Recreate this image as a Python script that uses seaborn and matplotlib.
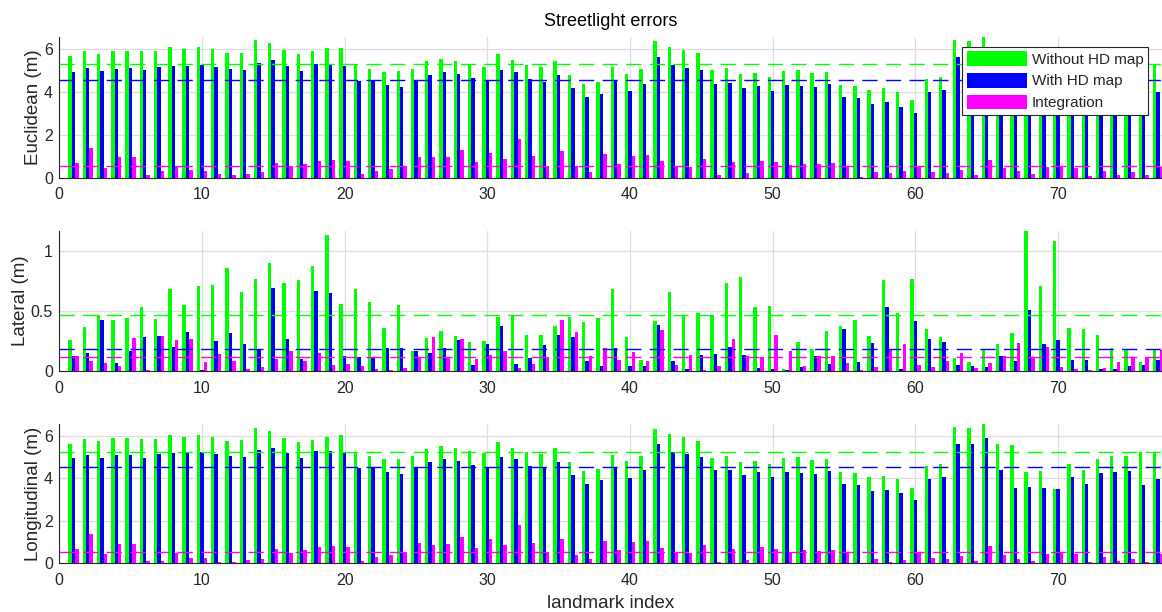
import numpy as np
import pandas as pd
import matplotlib
matplotlib.use("Agg")
import matplotlib.pyplot as plt
from matplotlib.patches import Patch
import seaborn as sns

# ---------------- data ----------------
landmarks = list(range(1, 78))
series_names = ["Without HD map", "With HD map", "Integration"]
colors = ["#00FF00", "#0000FF", "#FF00FF"]

eu_without = [5.67, 5.92, 5.78, 5.93, 5.93, 5.92, 5.92, 6.09, 6.01, 6.11,
              6.01, 5.83, 5.84, 6.45, 6.29, 5.97, 5.78, 5.92, 6.07, 6.06,
              5.26, 5.09, 4.94, 4.98, 5.08, 5.43, 5.55, 5.45, 5.30, 5.19,
              5.78, 5.50, 5.28, 5.17, 5.45, 4.80, 4.38, 4.49, 5.17, 4.84,
              5.06, 6.37, 6.12, 5.97, 5.81, 5.03, 5.12, 4.86, 4.89, 4.70,
              4.98, 5.03, 4.88, 4.92, 4.31, 4.28, 4.11, 4.19, 4.02, 3.63,
              4.61, 4.69, 6.43, 6.39, 6.57, 5.63, 5.59, 4.43, 4.39, 3.67,
              4.69, 4.38, 4.93, 5.06, 5.06, 5.21, 5.28]
eu_with = [4.95, 5.11, 5.00, 5.09, 5.12, 5.02, 5.17, 5.22, 5.23, 5.26,
           5.17, 5.06, 5.03, 5.34, 5.48, 5.22, 4.98, 5.31, 5.30, 5.22,
           4.50, 4.53, 4.33, 4.24, 4.55, 4.80, 4.94, 4.84, 4.66, 4.58,
           5.05, 4.92, 4.61, 4.49, 4.78, 4.19, 3.77, 3.91, 4.55, 4.05,
           4.38, 5.62, 5.26, 5.14, 5.03, 4.38, 4.44, 4.17, 4.28, 4.07,
           4.33, 4.28, 4.25, 4.36, 3.77, 3.71, 3.44, 3.52, 3.30, 3.04,
           4.00, 4.10, 5.64, 5.63, 5.90, 4.42, 3.54, 3.65, 3.56, 3.50,
           4.05, 3.73, 4.25, 4.30, 4.33, 3.70, 4.00]
eu_int = [0.70, 1.37, 0.44, 0.95, 0.98, 0.12, 0.33, 0.55, 0.37, 0.30,
          0.17, 0.12, 0.17, 0.25, 0.70, 0.55, 0.64, 0.78, 0.83, 0.78,
          0.16, 0.31, 0.40, 0.55, 0.97, 0.95, 0.95, 1.28, 0.73, 1.15,
          0.87, 1.81, 1.00, 0.55, 1.23, 0.55, 0.26, 1.09, 0.62, 1.01,
          1.06, 0.78, 0.50, 0.50, 0.86, 0.11, 0.75, 0.23, 0.79, 0.75,
          0.58, 0.64, 0.64, 0.67, 0.50, 0.05, 0.25, 0.22, 0.31, 0.50,
          0.26, 0.22, 0.37, 0.14, 0.81, 0.44, 0.31, 0.19, 0.51, 0.50,
          0.47, 0.09, 0.33, 0.14, 0.26, 0.14, 0.50]

lat_without = [0.256, 0.369, 0.467, 0.422, 0.444, 0.533, 0.433, 0.681, 0.553, 0.706,
               0.717, 0.856, 0.656, 0.767, 0.900, 0.731, 0.756, 0.875, 1.136, 0.556,
               0.683, 0.575, 0.356, 0.550, 0.169, 0.272, 0.336, 0.292, 0.242, 0.247,
               0.450, 0.461, 0.297, 0.300, 0.378, 0.453, 0.408, 0.442, 0.681, 0.281,
               0.089, 0.417, 0.656, 0.469, 0.483, 0.469, 0.731, 0.781, 0.531, 0.542,
               0.017, 0.239, 0.180, 0.336, 0.378, 0.425, 0.294, 0.761, 0.486, 0.767,
               0.347, 0.286, 0.106, 0.078, 0.186, 0.225, 0.317, 1.169, 0.708, 1.086,
               0.361, 0.350, 0.300, 0.189, 0.186, 0.078, 0.183]
lat_with = [0.128, 0.150, 0.422, 0.069, 0.167, 0.283, 0.292, 0.200, 0.325, 0.008,
            0.247, 0.317, 0.225, 0.180, 0.692, 0.264, 0.097, 0.669, 0.653, 0.125,
            0.114, 0.111, 0.192, 0.189, 0.167, 0.150, 0.194, 0.258, 0.053, 0.222,
            0.375, 0.058, 0.106, 0.217, 0.303, 0.281, 0.086, 0.042, 0.194, 0.039,
            0.042, 0.383, 0.081, 0.017, 0.136, 0.144, 0.203, 0.133, 0.025, 0.017,
            0.008, 0.036, 0.122, 0.058, 0.350, 0.078, 0.233, 0.533, 0.017, 0.417,
            0.267, 0.242, 0.053, 0.042, 0.036, 0.125, 0.083, 0.508, 0.228, 0.256,
            0.094, 0.094, 0.017, 0.017, 0.042, 0.053, 0.094]
lat_int = [0.125, 0.086, 0.067, 0.042, 0.272, 0.011, 0.289, 0.258, 0.264, 0.078,
           0.139, 0.083, 0.019, 0.031, 0.100, 0.167, 0.083, 0.150, 0.047, 0.058,
           0.042, 0.017, 0.008, 0.022, 0.106, 0.283, 0.117, 0.269, 0.100, 0.133,
           0.164, 0.025, 0.056, 0.119, 0.425, 0.328, 0.122, 0.192, 0.094, 0.161,
           0.083, 0.339, 0.053, 0.133, 0.006, 0.039, 0.267, 0.122, 0.114, 0.297,
           0.169, 0.042, 0.125, 0.125, 0.067, 0.011, 0.033, 0.183, 0.225, 0.053,
           0.033, 0.083, 0.153, 0.025, 0.067, 0.125, 0.236, 0.108, 0.200, 0.033,
           0.014, 0.006, 0.022, 0.072, 0.114, 0.114, 0.172]

lon_without = [5.62, 5.86, 5.75, 5.91, 5.91, 5.86, 5.86, 6.03, 5.95, 6.05,
               5.94, 5.73, 5.78, 6.38, 6.20, 5.91, 5.72, 5.81, 5.95, 6.02,
               5.18, 5.06, 4.92, 4.92, 5.06, 5.38, 5.53, 5.42, 5.28, 5.17,
               5.72, 5.43, 5.23, 5.15, 5.42, 4.74, 4.35, 4.44, 5.10, 4.82,
               5.03, 6.33, 6.06, 5.92, 5.76, 4.96, 5.06, 4.77, 4.82, 4.65,
               4.96, 4.98, 4.85, 4.90, 4.29, 4.24, 4.07, 4.10, 3.97, 3.53,
               4.57, 4.68, 6.42, 6.35, 6.55, 5.62, 5.58, 4.27, 4.33, 3.50,
               4.68, 4.37, 4.92, 5.06, 5.06, 5.21, 5.25]
lon_with = [4.93, 5.09, 4.96, 5.07, 5.10, 4.96, 5.15, 5.20, 5.20, 5.23,
            5.15, 5.03, 5.01, 5.34, 5.42, 5.20, 4.95, 5.26, 5.28, 5.18,
            4.46, 4.46, 4.30, 4.21, 4.52, 4.77, 4.90, 4.82, 4.63, 4.54,
            5.01, 4.90, 4.59, 4.46, 4.74, 4.16, 3.75, 3.91, 4.51, 4.02,
            4.37, 5.59, 5.25, 5.12, 5.01, 4.37, 4.41, 4.16, 4.27, 4.05,
            4.30, 4.26, 4.22, 4.35, 3.72, 3.68, 3.41, 3.46, 3.30, 2.98,
            3.97, 4.07, 5.62, 5.61, 5.89, 4.40, 3.53, 3.61, 3.55, 3.49,
            4.04, 3.72, 4.24, 4.29, 4.32, 3.69, 3.97]
lon_int = [0.68, 1.37, 0.42, 0.93, 0.93, 0.11, 0.11, 0.47, 0.25, 0.27,
           0.06, 0.06, 0.16, 0.22, 0.68, 0.50, 0.63, 0.77, 0.82, 0.77,
           0.13, 0.30, 0.39, 0.53, 0.94, 0.88, 0.93, 1.24, 0.72, 1.13,
           0.86, 1.79, 0.97, 0.52, 1.15, 0.41, 0.20, 1.05, 0.63, 0.99,
           1.05, 0.71, 0.49, 0.50, 0.85, 0.08, 0.69, 0.17, 0.77, 0.68,
           0.53, 0.64, 0.60, 0.63, 0.50, 0.03, 0.22, 0.05, 0.16, 0.50,
           0.24, 0.19, 0.35, 0.11, 0.79, 0.39, 0.19, 0.13, 0.46, 0.50,
           0.44, 0.06, 0.30, 0.11, 0.19, 0.05, 0.44]

# mean lines
eu_means = [5.30, 4.55, 0.56]
lat_means = [0.467, 0.180, 0.117]
lon_means = [5.23, 4.51, 0.52]

panel_labels = ["Euclidean (m)", "Lateral (m)", "Longitudinal (m)"]
y_ticks = [[0, 2, 4, 6], [0, 0.5, 1], [0, 2, 4, 6]]
y_ticklabels = [["0", "2", "4", "6"], ["0", "0.5", "1"], ["0", "2", "4", "6"]]
x_ticks = [0, 10, 20, 30, 40, 50, 60, 70]
title_text = "Streetlight errors"
xlabel_text = "landmark index"

panels = [
    (eu_without, eu_with, eu_int, eu_means),
    (lat_without, lat_with, lat_int, lat_means),
    (lon_without, lon_with, lon_int, lon_means),
]

# ---------------- style ----------------
sns.set_style("white")
plt.rcParams["font.family"] = ["Liberation Sans", "DejaVu Sans"]
plt.rcParams["axes.unicode_minus"] = False

fig = plt.figure(figsize=(11.62, 6.12), dpi=100)
positions = [
    [0.0509, 0.7096, 0.9491, 0.2299],
    [0.0509, 0.3938, 0.9491, 0.2288],
    [0.0509, 0.0796, 0.9491, 0.2276],
]
dark = "#262626"

for i, (a, b, c, means) in enumerate(panels):
    ax = fig.add_axes(positions[i])
    df = pd.DataFrame({
        "landmark": landmarks * 3,
        "value": a + b + c,
        "series": [series_names[0]] * len(a) + [series_names[1]] * len(b) + [series_names[2]] * len(c),
    })
    sns.barplot(data=df, x="landmark", y="value", hue="series",
                hue_order=series_names, palette=colors, native_scale=True,
                width=0.72, gap=0, errorbar=None, saturation=1,
                linewidth=0, legend=False, ax=ax, zorder=2)
    for m, col in zip(means, colors):
        ax.axhline(m, color=col, linewidth=1.0, linestyle=(0, (11, 6)), zorder=3)
    ymax = max(max(a), max(b), max(c))
    ax.set_xlim(0, 77.28)
    ax.set_ylim(0, ymax)
    ax.set_xticks(x_ticks)
    ax.set_xticklabels([str(t) for t in x_ticks])
    ax.set_yticks(y_ticks[i])
    ax.set_yticklabels(y_ticklabels[i])
    ax.set_axisbelow(True)
    ax.grid(True, color="#dedede", linewidth=0.9)
    for s in ["top", "right"]:
        ax.spines[s].set_visible(False)
    for s in ["left", "bottom"]:
        ax.spines[s].set_color(dark)
        ax.spines[s].set_linewidth(0.8)
    ax.tick_params(axis="both", direction="in", length=8.4, width=0.7,
                   color=dark, labelcolor=dark, labelsize=11.5)
    ax.tick_params(axis="y", pad=4.5)
    ax.tick_params(axis="x", pad=7)
    ax.set_ylabel(panel_labels[i], fontsize=13.5, color=dark, labelpad=1.5)
    ax.set_xlabel("")
    if i == 0:
        ax.set_title(title_text, fontsize=13, color="black", pad=8)
        handles = [Patch(facecolor=col, edgecolor="none", label=n)
                   for col, n in zip(colors, series_names)]
        leg = ax.legend(handles=handles, loc="upper right",
                        bbox_to_anchor=(0.9873, 0.931), borderaxespad=0,
                        fontsize=11, handlelength=3.95, handleheight=1.1,
                        handletextpad=0.3, labelspacing=0.4, borderpad=0.3,
                        fancybox=False, framealpha=1, edgecolor=dark)
        leg.get_frame().set_linewidth(0.8)
    if i == 2:
        ax.set_xlabel(xlabel_text, fontsize=13.5, color=dark, labelpad=5)

fig.savefig("out.png", dpi=100)
